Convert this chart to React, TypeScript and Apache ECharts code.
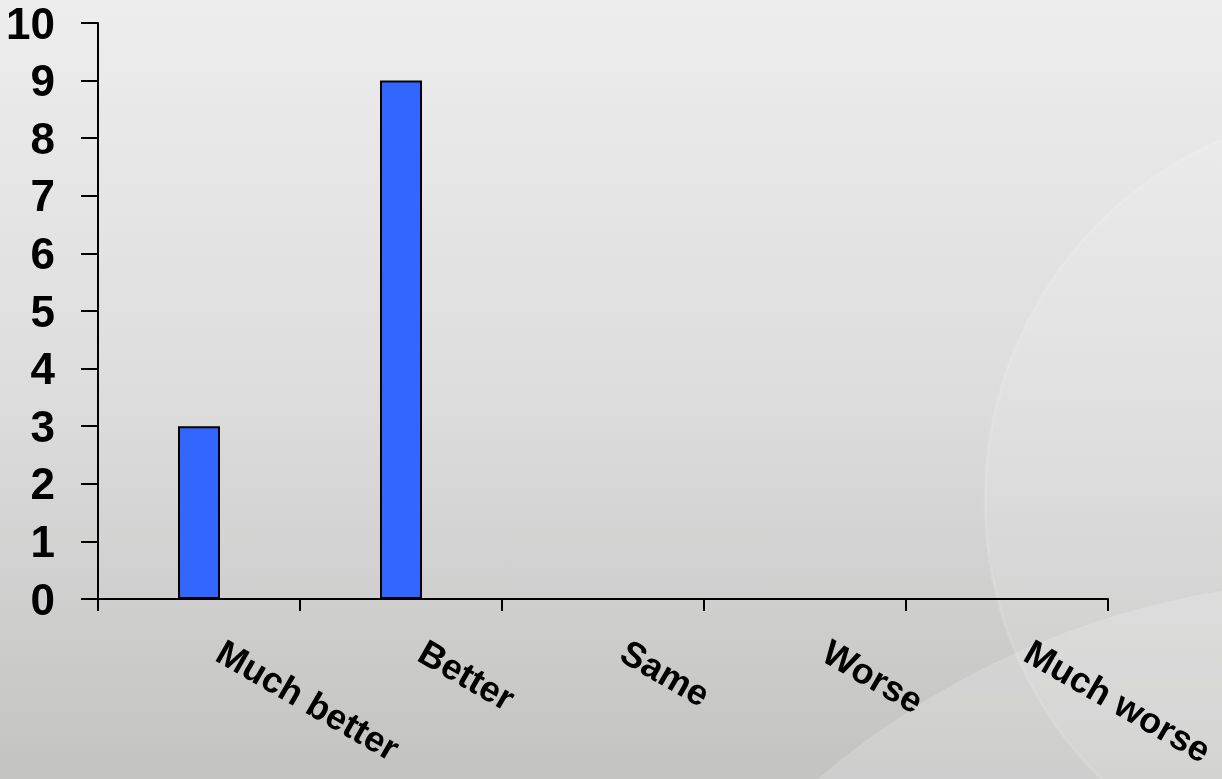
import React, { useEffect, useRef } from "react";
import * as echarts from "echarts";

const categories = ["Much better", "Better", "Same", "Worse", "Much worse"];
const values = [3, 9, 0, 0, 0];
const yMin = 0;
const yMax = 10;
const yInterval = 1;

export default function App() {
  const ref = useRef<HTMLDivElement>(null);
  useEffect(() => {
    if (!ref.current) return;
    const chart = echarts.init(ref.current, undefined, { renderer: "svg" });
    const font = "Liberation Sans, Arial, Helvetica, sans-serif";
    chart.setOption({
      animation: false,
      graphic: [
        {
          type: "rect",
          z: -10,
          silent: true,
          shape: { x: 0, y: 0, width: 1222, height: 779 },
          style: {
            fill: new echarts.graphic.LinearGradient(0, 0, 0, 1, [
              { offset: 0, color: "#ecedec" },
              { offset: 0.5, color: "#dcdddc" },
              { offset: 1, color: "#c3c4c2" },
            ]),
          },
        },
        {
          type: "ellipse",
          z: -9,
          silent: true,
          shape: { cx: 1370, cy: 500, rx: 385, ry: 390 },
          style: {
            fill: "rgba(255,255,255,0.13)",
            stroke: "rgba(255,255,255,0.12)",
            lineWidth: 3,
          },
        },
        {
          type: "circle",
          z: -8,
          silent: true,
          shape: { cx: 1355, cy: 1405, r: 825 },
          style: { fill: "rgba(255,255,255,0.18)" },
        },
      ],
      grid: {
        left: 98,
        right: 114,
        top: 23,
        bottom: 180,
        containLabel: false,
        outerBoundsMode: "none",
      },
      xAxis: {
        type: "category",
        data: categories,
        axisLine: { lineStyle: { color: "#000", width: 2 } },
        axisTick: { show: true, length: 12, lineStyle: { color: "#000", width: 2 } },
        axisLabel: {
          interval: 0,
          rotate: -30,
          margin: 38,
          padding: [0, 0, 0, 24],
          color: "#000",
          fontSize: 36,
          fontWeight: "bold",
          fontFamily: font,
        },
        splitLine: { show: false },
      },
      yAxis: {
        type: "value",
        min: yMin,
        max: yMax,
        interval: yInterval,
        axisLine: { show: true, lineStyle: { color: "#000", width: 2 } },
        axisTick: { show: true, length: 17, lineStyle: { color: "#000", width: 2 } },
        axisLabel: {
          margin: 43,
          color: "#000",
          fontSize: 44,
          fontWeight: "bold",
          fontFamily: font,
        },
        splitLine: { show: false },
      },
      series: [
        {
          type: "bar",
          data: values,
          barWidth: 42,
          itemStyle: { color: "#3366FF", borderColor: "#000", borderWidth: 2 },
        },
      ],
    });
    return () => chart.dispose();
  }, []);
  return (
    <div
      ref={ref}
      style={{ position: "fixed", left: 0, top: 0, width: 1222, height: 779 }}
    />
  );
}
